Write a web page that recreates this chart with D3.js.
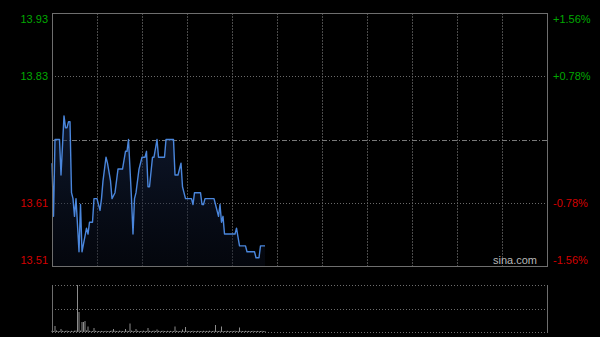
<!DOCTYPE html>
<html>
<head>
<meta charset="utf-8">
<script src="https://cdn.jsdelivr.net/npm/d3@7/dist/d3.min.js"></script>
<style>
  html, body { margin: 0; padding: 0; background: #000; }
  svg { display: block; }
  text { font-family: "Liberation Sans", Arial, sans-serif; }
</style>
</head>
<body>
<svg id="chart"></svg>
<script>
// previous close and the percent ticks on the right axis
var prevClose = 13.72;
var pctTicks = [1.56, 0.78, 0, -0.78, -1.56];

// price line at its turning points (minute from 9:30, price)
var priceMinutes = [0, 1, 2, 5, 6, 8, 9, 10, 11, 12, 13, 14, 15, 16, 18, 19, 20, 23, 24, 25,
  27, 28, 30, 32, 33, 34, 36, 37, 39, 40, 42, 44, 47, 49, 50, 51, 53, 54, 55, 56,
  58, 60, 62, 63, 64, 65, 67, 68, 70, 71, 75, 76, 81, 82, 84, 86, 87, 89, 93, 94,
  95, 99, 100, 101, 102, 108, 109, 111, 112, 113, 114, 115, 122, 123, 125, 129, 130, 135, 136, 138,
  139, 142];
var priceValues = [13.68, 13.59, 13.72, 13.72, 13.66, 13.76, 13.74, 13.74, 13.75, 13.75, 13.63, 13.62, 13.59, 13.62, 13.53, 13.61, 13.53, 13.57, 13.56, 13.58,
  13.58, 13.62, 13.62, 13.60, 13.62, 13.65, 13.69, 13.68, 13.65, 13.62, 13.63, 13.67, 13.67, 13.70, 13.70, 13.72, 13.62, 13.56, 13.62, 13.63,
  13.67, 13.69, 13.69, 13.70, 13.64, 13.64, 13.69, 13.69, 13.72, 13.69, 13.69, 13.72, 13.72, 13.66, 13.66, 13.68, 13.64, 13.62, 13.62, 13.61,
  13.63, 13.63, 13.61, 13.61, 13.62, 13.62, 13.61, 13.59, 13.61, 13.58, 13.59, 13.56, 13.56, 13.57, 13.54, 13.54, 13.53, 13.53, 13.52, 13.52,
  13.54, 13.54];

// volume per minute, minutes 0..142
var volumeValues = [12000, 9000, 60000, 15000, 10000, 8000, 30000, 12000, 9000, 11000,
  14000, 10000, 8000, 12000, 9000, 13000, 15000, 470000, 200000, 14000,
  100000, 100000, 110000, 16000, 55000, 12000, 9000, 10000, 40000, 12000,
  8000, 10000, 9000, 11000, 10000, 8000, 12000, 9000, 10000, 11000,
  14000, 30000, 12000, 10000, 9000, 13000, 11000, 10000, 9000, 30000,
  12000, 10000, 85000, 14000, 11000, 9000, 30000, 12000, 10000, 9000,
  11000, 13000, 10000, 9000, 40000, 12000, 10000, 11000, 14000, 10000,
  25000, 12000, 9000, 11000, 13000, 10000, 9000, 12000, 10000, 11000,
  9000, 10000, 55000, 12000, 10000, 9000, 11000, 25000, 10000, 50000,
  12000, 9000, 11000, 10000, 13000, 9000, 10000, 12000, 11000, 9000,
  10000, 12000, 9000, 11000, 10000, 13000, 9000, 10000, 12000, 70000,
  11000, 10000, 12000, 55000, 10000, 9000, 11000, 12000, 10000, 9000,
  11000, 10000, 13000, 9000, 10000, 45000, 11000, 10000, 9000, 12000,
  10000, 11000, 9000, 10000, 12000, 9000, 10000, 11000, 9000, 10000,
  12000, 9000, 10000];

var totalMinutes = 330;   // 9:30-12:00 + 13:00-16:00
var gridEvery = 30;

var width = 600, height = 337;
var main = {left: 52, right: 547, top: 13, bottom: 266};
var vol = {left: 52, right: 547, top: 285, bottom: 332};

var svg = d3.select("#chart")
    .attr("width", width)
    .attr("height", height);

svg.append("rect")
    .attr("width", width)
    .attr("height", height)
    .attr("fill", "#000");

var x = d3.scaleLinear()
    .domain([0, totalMinutes])
    .range([main.left, main.right]);

var pMax = prevClose * (1 + pctTicks[0] / 100),
    pMin = prevClose * (1 + pctTicks[pctTicks.length - 1] / 100);

var y = d3.scaleLinear()
    .domain([pMin, pMax])
    .range([main.bottom, main.top]);

var yVol = d3.scaleLinear()
    .domain([0, d3.max(volumeValues)])
    .range([vol.bottom, vol.top]);

function crisp(v) { return Math.round(v) + 0.5; }

// vertical grid, main panel
var vLines = d3.range(gridEvery, totalMinutes, gridEvery);
svg.append("g").selectAll("line")
    .data(vLines)
  .enter().append("line")
    .attr("x1", function(d) { return crisp(x(d)); })
    .attr("x2", function(d) { return crisp(x(d)); })
    .attr("y1", main.top)
    .attr("y2", main.bottom)
    .attr("stroke", "#4a4a4a")
    .attr("stroke-dasharray", "2,1");

// horizontal grid
svg.append("g").selectAll("line")
    .data(pctTicks.slice(1, -1))
  .enter().append("line")
    .attr("x1", main.left)
    .attr("x2", main.right)
    .attr("y1", function(d) { return crisp(y(prevClose * (1 + d / 100))); })
    .attr("y2", function(d) { return crisp(y(prevClose * (1 + d / 100))); })
    .attr("stroke", function(d) { return d == 0 ? "#7a7a7a" : "#6a6a6a"; })
    .attr("stroke-dasharray", function(d) { return d == 0 ? "5,2,1,2" : "1,2"; });

// area + line
var pts = priceMinutes.map(function(m, i) { return [m, priceValues[i]]; });

var defs = svg.append("defs");
var grad = defs.append("linearGradient")
    .attr("id", "areaFill")
    .attr("x1", 0).attr("y1", 0)
    .attr("x2", 0).attr("y2", 1);
grad.append("stop").attr("offset", "0%").attr("stop-color", "#1a2c52").attr("stop-opacity", 0.55);
grad.append("stop").attr("offset", "100%").attr("stop-color", "#0a1020").attr("stop-opacity", 0.4);

svg.append("path")
    .datum(pts)
    .attr("fill", "url(#areaFill)")
    .attr("d", d3.area()
        .x(function(d) { return x(d[0]); })
        .y0(main.bottom)
        .y1(function(d) { return y(d[1]); }));

svg.append("path")
    .datum(pts)
    .attr("fill", "none")
    .attr("stroke", "#4a86dc")
    .attr("stroke-width", 1.4)
    .attr("stroke-linejoin", "round")
    .attr("d", d3.line()
        .x(function(d) { return x(d[0]); })
        .y(function(d) { return y(d[1]); }));

// main frame
svg.append("rect")
    .attr("x", main.left + 0.5)
    .attr("y", main.top + 0.5)
    .attr("width", main.right - main.left)
    .attr("height", main.bottom - main.top)
    .attr("fill", "none")
    .attr("stroke", "#6e6e6e");

// axis labels
var fmtP = d3.format(".2f");
var labelTicks = pctTicks.filter(function(d) { return d != 0; });

function labelY(d) {
  var yy = y(prevClose * (1 + d / 100));
  if (d == pctTicks[0]) return yy + 10;
  if (d == pctTicks[pctTicks.length - 1]) return yy - 2;
  return yy + 4;
}
function labelColor(d) { return d > 0 ? "#00a800" : "#d40000"; }

svg.append("g").selectAll("text")
    .data(labelTicks)
  .enter().append("text")
    .attr("x", main.left - 4)
    .attr("y", labelY)
    .attr("text-anchor", "end")
    .attr("font-size", "11px")
    .attr("fill", labelColor)
    .text(function(d) { return fmtP(prevClose * (1 + d / 100)); });

svg.append("g").selectAll("text")
    .data(labelTicks)
  .enter().append("text")
    .attr("x", main.right + 6)
    .attr("y", labelY)
    .attr("text-anchor", "start")
    .attr("font-size", "11px")
    .attr("fill", labelColor)
    .text(function(d) { return (d > 0 ? "+" : "") + d.toFixed(2) + "%"; });

svg.append("text")
    .attr("x", main.right - 10)
    .attr("y", main.bottom - 2)
    .attr("text-anchor", "end")
    .attr("font-size", "11px")
    .attr("fill", "#b8b8b8")
    .text("sina.com");

// volume panel
svg.append("g").selectAll("rect")
    .data(volumeValues)
  .enter().append("rect")
    .attr("x", function(d, i) { return x(i) - 0.5; })
    .attr("width", 1)
    .attr("y", function(d) { return yVol(d); })
    .attr("height", function(d) { return vol.bottom - yVol(d); })
    .attr("fill", "#8c8c8c");

[vol.top, (vol.top + vol.bottom) / 2, vol.bottom].forEach(function(v) {
  svg.append("line")
      .attr("x1", vol.left)
      .attr("x2", vol.right)
      .attr("y1", crisp(v))
      .attr("y2", crisp(v))
      .attr("stroke", "#6e6e6e")
      .attr("stroke-dasharray", "1,2");
});

[vol.left, vol.right].forEach(function(v) {
  svg.append("line")
      .attr("x1", v + 0.5)
      .attr("x2", v + 0.5)
      .attr("y1", vol.top)
      .attr("y2", vol.bottom + 1)
      .attr("stroke", "#6e6e6e");
});
</script>
</body>
</html>
